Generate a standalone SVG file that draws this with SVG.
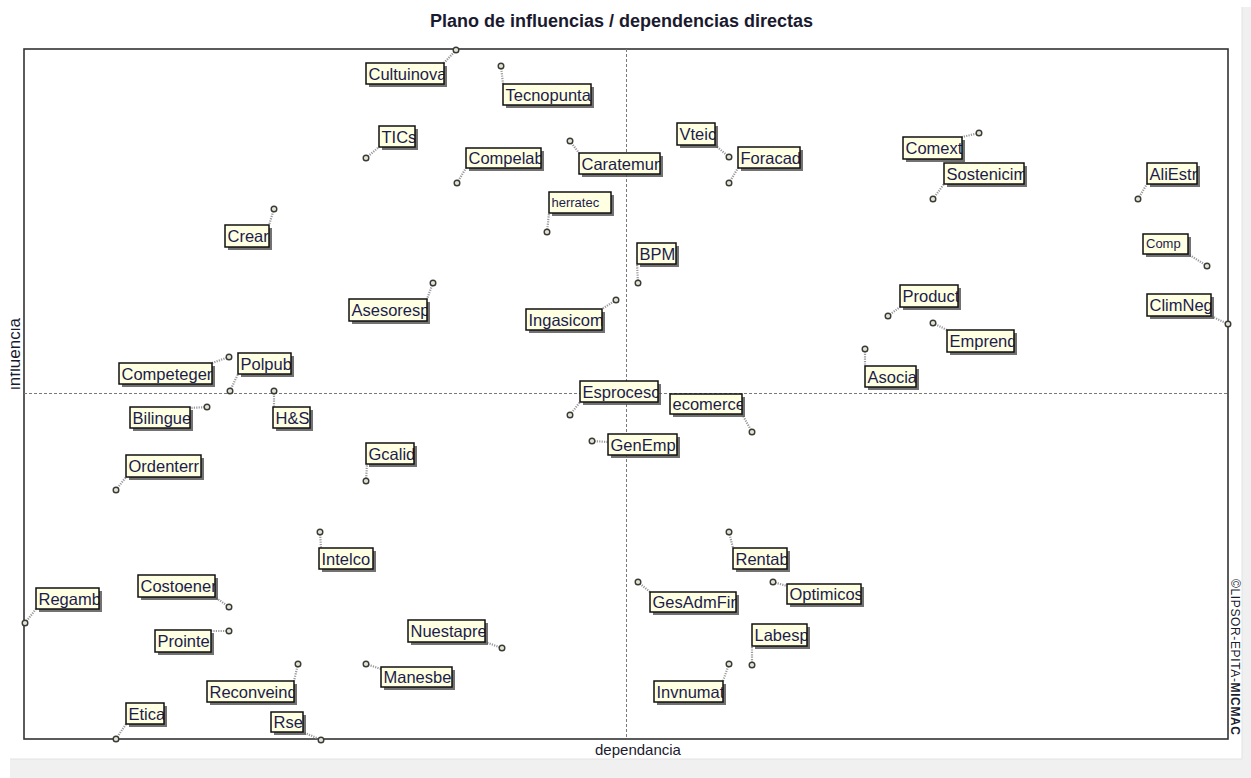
<svg xmlns="http://www.w3.org/2000/svg" width="1251" height="778" viewBox="0 0 1251 778">
  <defs>
    <style>
      .lbl { font-family: "Liberation Sans", Arial, sans-serif; font-size: 16.5px; fill: #1c1c4e; }
      .sm { font-size: 13px; }
      .sh { fill: #505050; opacity: 0.8; filter: url(#soft); }
      .bx { fill: #ffffe1; }
      .bd { fill: none; stroke: #111; stroke-width: 1.5; }
      .pt { fill: #e4e4cf; stroke: #3a3a3a; stroke-width: 1.4; }
      .ld { fill: none; stroke: #9a9a9a; stroke-width: 2.2; stroke-dasharray: 1.2 1.2; }
      .axis { fill: none; stroke: #7a7a7a; stroke-width: 1; stroke-dasharray: 3 2; }
      .cap { font-family: "Liberation Sans", Arial, sans-serif; fill: #1a1a2e; }
    </style>
    <filter id="soft" x="-10%" y="-30%" width="120%" height="160%">
      <feGaussianBlur stdDeviation="0.7"/>
    </filter>
    <clipPath id="yclip">
      <rect x="10.5" y="290" width="20" height="130"/>
    </clipPath>
  </defs>

  <!-- window background -->
  <rect x="0" y="0" width="1251" height="778" fill="#ffffff"/>
  <rect x="1242" y="7" width="9" height="771" fill="#f0f0f0"/>
  <line x1="1242" y1="7" x2="1242" y2="759" stroke="#e2e2e2" stroke-width="1"/>
  <rect x="10" y="759" width="1241" height="19" fill="#f0f0f0"/>
  <line x1="10" y1="759" x2="1242" y2="759" stroke="#e2e2e2" stroke-width="1"/>

  <!-- title -->
  <text class="cap" x="621.5" y="26.5" text-anchor="middle" font-size="18" font-weight="bold">Plano de influencias / dependencias directas</text>

  <!-- plot frame and median axes -->
  <rect x="24" y="49" width="1204" height="690" fill="#ffffff" stroke="#333" stroke-width="1.6"/>
  <line class="axis" x1="626.5" y1="49" x2="626.5" y2="739"/>
  <line class="axis" x1="24" y1="393.5" x2="1228" y2="393.5"/>

  <!-- axis captions -->
  <g clip-path="url(#yclip)">
    <text class="cap" transform="translate(19.5,354) rotate(-90)" text-anchor="middle" font-size="17">influencia</text>
  </g>
  <text class="cap" x="638" y="755" text-anchor="middle" font-size="15">dependancia</text>
  <text class="cap" transform="translate(1231,579) rotate(90)" font-size="12" textLength="156">©LIPSOR-EPITA-<tspan font-weight="bold">MICMAC</tspan></text>

  <!-- leaders from each point to its label -->
  <g id="connectors">
    <path class="ld" d="M456,50 L444,63"/>
    <path class="ld" d="M501,66 L503,84"/>
    <path class="ld" d="M366,158 L379,147"/>
    <path class="ld" d="M457,183 L466,168"/>
    <path class="ld" d="M570,141 L579,153"/>
    <path class="ld" d="M729,157 L715,145"/>
    <path class="ld" d="M729,183 L738,168"/>
    <path class="ld" d="M979,133 L962,137"/>
    <path class="ld" d="M933,199 L944,184"/>
    <path class="ld" d="M1138,199 L1147,184"/>
    <path class="ld" d="M274,209 L269,225"/>
    <path class="ld" d="M547,232 L549,213"/>
    <path class="ld" d="M638,283 L637,264"/>
    <path class="ld" d="M1207,266 L1188,254"/>
    <path class="ld" d="M433,283 L427,299"/>
    <path class="ld" d="M616,300 L602,309"/>
    <path class="ld" d="M888,316 L900,307"/>
    <path class="ld" d="M1228,324 L1211,316"/>
    <path class="ld" d="M933,323 L947,330"/>
    <path class="ld" d="M865,349 L865,366"/>
    <path class="ld" d="M229,357 L212,363"/>
    <path class="ld" d="M230,391 L238,374"/>
    <path class="ld" d="M570,415 L580,402"/>
    <path class="ld" d="M752,432 L742,414"/>
    <path class="ld" d="M207,407 L190,408"/>
    <path class="ld" d="M274,391 L274,407"/>
    <path class="ld" d="M592,441 L608,442"/>
    <path class="ld" d="M366,481 L367,464"/>
    <path class="ld" d="M116,490 L126,477"/>
    <path class="ld" d="M320,532 L321,548"/>
    <path class="ld" d="M729,532 L733,548"/>
    <path class="ld" d="M229,607 L215,597"/>
    <path class="ld" d="M25,623 L36,609"/>
    <path class="ld" d="M638,582 L650,592"/>
    <path class="ld" d="M773,582 L787,586"/>
    <path class="ld" d="M502,648 L485,642"/>
    <path class="ld" d="M229,631 L211,631"/>
    <path class="ld" d="M752,665 L752,646"/>
    <path class="ld" d="M298,664 L294,681"/>
    <path class="ld" d="M729,664 L723,681"/>
    <path class="ld" d="M366,664 L381,669"/>
    <path class="ld" d="M116,739 L126,724"/>
    <path class="ld" d="M321,740 L303,732"/>
  </g>

  <!-- variables: point, shadow, box, clipped label, border -->
  <g id="n-cultuinova"><circle class="pt" cx="456" cy="50" r="2.8"/><rect class="sh" x="369" y="66" width="78" height="21"/><rect class="bx" x="366" y="63" width="78" height="21"/><svg x="366" y="63" width="78" height="21"><text class="lbl" x="2.5" y="16.5">Cultuinova</text></svg><rect class="bd" x="366" y="63" width="78" height="21"/></g>
  <g id="n-tecnopunta"><circle class="pt" cx="501" cy="66" r="2.8"/><rect class="sh" x="506" y="87" width="88" height="21"/><rect class="bx" x="503" y="84" width="88" height="21"/><svg x="503" y="84" width="88" height="21"><text class="lbl" x="2.5" y="16.5">Tecnopunta</text></svg><rect class="bd" x="503" y="84" width="88" height="21"/></g>
  <g id="n-tics"><circle class="pt" cx="366" cy="158" r="2.8"/><rect class="sh" x="382" y="129" width="36" height="21"/><rect class="bx" x="379" y="126" width="36" height="21"/><svg x="379" y="126" width="36" height="21"><text class="lbl" x="2.5" y="16.5">TICs</text></svg><rect class="bd" x="379" y="126" width="36" height="21"/></g>
  <g id="n-compelab"><circle class="pt" cx="457" cy="183" r="2.8"/><rect class="sh" x="469" y="151" width="75" height="20"/><rect class="bx" x="466" y="148" width="75" height="20"/><svg x="466" y="148" width="75" height="20"><text class="lbl" x="2.5" y="16">Compelab</text></svg><rect class="bd" x="466" y="148" width="75" height="20"/></g>
  <g id="n-caratemun"><circle class="pt" cx="570" cy="141" r="2.8"/><rect class="sh" x="582" y="156" width="81" height="21"/><rect class="bx" x="579" y="153" width="81" height="21"/><svg x="579" y="153" width="81" height="21"><text class="lbl" x="2.5" y="16.5">Caratemun</text></svg><rect class="bd" x="579" y="153" width="81" height="21"/></g>
  <g id="n-vteic"><circle class="pt" cx="729" cy="157" r="2.8"/><rect class="sh" x="680" y="126" width="38" height="22"/><rect class="bx" x="677" y="123" width="38" height="22"/><svg x="677" y="123" width="38" height="22"><text class="lbl" x="2.5" y="17">Vteic</text></svg><rect class="bd" x="677" y="123" width="38" height="22"/></g>
  <g id="n-foracad"><circle class="pt" cx="729" cy="183" r="2.8"/><rect class="sh" x="741" y="150" width="62" height="21"/><rect class="bx" x="738" y="147" width="62" height="21"/><svg x="738" y="147" width="62" height="21"><text class="lbl" x="2.5" y="16.5">Foracad</text></svg><rect class="bd" x="738" y="147" width="62" height="21"/></g>
  <g id="n-comext"><circle class="pt" cx="979" cy="133" r="2.8"/><rect class="sh" x="906" y="140" width="59" height="22"/><rect class="bx" x="903" y="137" width="59" height="22"/><svg x="903" y="137" width="59" height="22"><text class="lbl" x="2.5" y="17">Comext</text></svg><rect class="bd" x="903" y="137" width="59" height="22"/></g>
  <g id="n-sostenicim"><circle class="pt" cx="933" cy="199" r="2.8"/><rect class="sh" x="947" y="166" width="80" height="21"/><rect class="bx" x="944" y="163" width="80" height="21"/><svg x="944" y="163" width="80" height="21"><text class="lbl" x="2.5" y="16.5">Sostenicim</text></svg><rect class="bd" x="944" y="163" width="80" height="21"/></g>
  <g id="n-aliestr"><circle class="pt" cx="1138" cy="199" r="2.8"/><rect class="sh" x="1150" y="166" width="50" height="21"/><rect class="bx" x="1147" y="163" width="50" height="21"/><svg x="1147" y="163" width="50" height="21"><text class="lbl" x="2.5" y="16.5">AliEstr</text></svg><rect class="bd" x="1147" y="163" width="50" height="21"/></g>
  <g id="n-crear"><circle class="pt" cx="274" cy="209" r="2.8"/><rect class="sh" x="228" y="228" width="44" height="22"/><rect class="bx" x="225" y="225" width="44" height="22"/><svg x="225" y="225" width="44" height="22"><text class="lbl" x="2.5" y="17">Crear</text></svg><rect class="bd" x="225" y="225" width="44" height="22"/></g>
  <g id="n-herratec"><circle class="pt" cx="547" cy="232" r="2.8"/><rect class="sh" x="552" y="195" width="62" height="21"/><rect class="bx" x="549" y="192" width="62" height="21"/><svg x="549" y="192" width="62" height="21"><text class="lbl sm" x="2.5" y="14.5">herratec</text></svg><rect class="bd" x="549" y="192" width="62" height="21"/></g>
  <g id="n-bpm"><circle class="pt" cx="638" cy="283" r="2.8"/><rect class="sh" x="640" y="246" width="39" height="21"/><rect class="bx" x="637" y="243" width="39" height="21"/><svg x="637" y="243" width="39" height="21"><text class="lbl" x="2.5" y="16.5">BPM</text></svg><rect class="bd" x="637" y="243" width="39" height="21"/></g>
  <g id="n-comp"><circle class="pt" cx="1207" cy="266" r="2.8"/><rect class="sh" x="1146" y="237" width="45" height="20"/><rect class="bx" x="1143" y="234" width="45" height="20"/><svg x="1143" y="234" width="45" height="20"><text class="lbl sm" x="3" y="14">Comp</text></svg><rect class="bd" x="1143" y="234" width="45" height="20"/></g>
  <g id="n-asesoresp"><circle class="pt" cx="433" cy="283" r="2.8"/><rect class="sh" x="352" y="302" width="78" height="22"/><rect class="bx" x="349" y="299" width="78" height="22"/><svg x="349" y="299" width="78" height="22"><text class="lbl" x="2.5" y="17">Asesoresp</text></svg><rect class="bd" x="349" y="299" width="78" height="22"/></g>
  <g id="n-ingasicom"><circle class="pt" cx="616" cy="300" r="2.8"/><rect class="sh" x="529" y="312" width="76" height="21"/><rect class="bx" x="526" y="309" width="76" height="21"/><svg x="526" y="309" width="76" height="21"><text class="lbl" x="2.5" y="16.5">Ingasicom</text></svg><rect class="bd" x="526" y="309" width="76" height="21"/></g>
  <g id="n-product"><circle class="pt" cx="888" cy="316" r="2.8"/><rect class="sh" x="903" y="288" width="58" height="22"/><rect class="bx" x="900" y="285" width="58" height="22"/><svg x="900" y="285" width="58" height="22"><text class="lbl" x="2.5" y="17">Product</text></svg><rect class="bd" x="900" y="285" width="58" height="22"/></g>
  <g id="n-climneg"><circle class="pt" cx="1228" cy="324" r="2.8"/><rect class="sh" x="1150" y="297" width="64" height="22"/><rect class="bx" x="1147" y="294" width="64" height="22"/><svg x="1147" y="294" width="64" height="22"><text class="lbl" x="2.5" y="17">ClimNeg</text></svg><rect class="bd" x="1147" y="294" width="64" height="22"/></g>
  <g id="n-emprend"><circle class="pt" cx="933" cy="323" r="2.8"/><rect class="sh" x="950" y="333" width="67" height="22"/><rect class="bx" x="947" y="330" width="67" height="22"/><svg x="947" y="330" width="67" height="22"><text class="lbl" x="2.5" y="17">Emprend</text></svg><rect class="bd" x="947" y="330" width="67" height="22"/></g>
  <g id="n-asocia"><circle class="pt" cx="865" cy="349" r="2.8"/><rect class="sh" x="868" y="369" width="51" height="21"/><rect class="bx" x="865" y="366" width="51" height="21"/><svg x="865" y="366" width="51" height="21"><text class="lbl" x="2.5" y="16.5">Asocia</text></svg><rect class="bd" x="865" y="366" width="51" height="21"/></g>
  <g id="n-competegen"><circle class="pt" cx="229" cy="357" r="2.8"/><rect class="sh" x="122" y="366" width="93" height="21"/><rect class="bx" x="119" y="363" width="93" height="21"/><svg x="119" y="363" width="93" height="21"><text class="lbl" x="2.5" y="16.5">Competegen</text></svg><rect class="bd" x="119" y="363" width="93" height="21"/></g>
  <g id="n-polpub"><circle class="pt" cx="230" cy="391" r="2.8"/><rect class="sh" x="241" y="356" width="53" height="21"/><rect class="bx" x="238" y="353" width="53" height="21"/><svg x="238" y="353" width="53" height="21"><text class="lbl" x="2.5" y="16.5">Polpub</text></svg><rect class="bd" x="238" y="353" width="53" height="21"/></g>
  <g id="n-esproceso"><circle class="pt" cx="570" cy="415" r="2.8"/><rect class="sh" x="583" y="384" width="78" height="21"/><rect class="bx" x="580" y="381" width="78" height="21"/><svg x="580" y="381" width="78" height="21"><text class="lbl" x="2.5" y="16.5">Esproceso</text></svg><rect class="bd" x="580" y="381" width="78" height="21"/></g>
  <g id="n-ecomerce"><circle class="pt" cx="752" cy="432" r="2.8"/><rect class="sh" x="673" y="397" width="72" height="20"/><rect class="bx" x="670" y="394" width="72" height="20"/><svg x="670" y="394" width="72" height="20"><text class="lbl" x="2.5" y="16">ecomerce</text></svg><rect class="bd" x="670" y="394" width="72" height="20"/></g>
  <g id="n-bilingue"><circle class="pt" cx="207" cy="407" r="2.8"/><rect class="sh" x="133" y="410" width="60" height="21"/><rect class="bx" x="130" y="407" width="60" height="21"/><svg x="130" y="407" width="60" height="21"><text class="lbl" x="2.5" y="16.5">Bilingue</text></svg><rect class="bd" x="130" y="407" width="60" height="21"/></g>
  <g id="n-hs"><circle class="pt" cx="274" cy="391" r="2.8"/><rect class="sh" x="276" y="410" width="37" height="21"/><rect class="bx" x="273" y="407" width="37" height="21"/><svg x="273" y="407" width="37" height="21"><text class="lbl" x="2.5" y="16.5">H&amp;S</text></svg><rect class="bd" x="273" y="407" width="37" height="21"/></g>
  <g id="n-genempl"><circle class="pt" cx="592" cy="441" r="2.8"/><rect class="sh" x="611" y="437" width="69" height="21"/><rect class="bx" x="608" y="434" width="69" height="21"/><svg x="608" y="434" width="69" height="21"><text class="lbl" x="2.5" y="16.5">GenEmpl</text></svg><rect class="bd" x="608" y="434" width="69" height="21"/></g>
  <g id="n-gcalid"><circle class="pt" cx="366" cy="481" r="2.8"/><rect class="sh" x="369" y="446" width="48" height="21"/><rect class="bx" x="366" y="443" width="48" height="21"/><svg x="366" y="443" width="48" height="21"><text class="lbl" x="2.5" y="16.5">Gcalid</text></svg><rect class="bd" x="366" y="443" width="48" height="21"/></g>
  <g id="n-ordenterr"><circle class="pt" cx="116" cy="490" r="2.8"/><rect class="sh" x="129" y="458" width="75" height="22"/><rect class="bx" x="126" y="455" width="75" height="22"/><svg x="126" y="455" width="75" height="22"><text class="lbl" x="2.5" y="17">Ordenterr</text></svg><rect class="bd" x="126" y="455" width="75" height="22"/></g>
  <g id="n-intelco"><circle class="pt" cx="320" cy="532" r="2.8"/><rect class="sh" x="322" y="551" width="54" height="21"/><rect class="bx" x="319" y="548" width="54" height="21"/><svg x="319" y="548" width="54" height="21"><text class="lbl" x="2.5" y="16.5">Intelco</text></svg><rect class="bd" x="319" y="548" width="54" height="21"/></g>
  <g id="n-rentab"><circle class="pt" cx="729" cy="532" r="2.8"/><rect class="sh" x="736" y="551" width="54" height="21"/><rect class="bx" x="733" y="548" width="54" height="21"/><svg x="733" y="548" width="54" height="21"><text class="lbl" x="2.5" y="16.5">Rentab</text></svg><rect class="bd" x="733" y="548" width="54" height="21"/></g>
  <g id="n-costoener"><circle class="pt" cx="229" cy="607" r="2.8"/><rect class="sh" x="141" y="578" width="77" height="22"/><rect class="bx" x="138" y="575" width="77" height="22"/><svg x="138" y="575" width="77" height="22"><text class="lbl" x="2.5" y="17">Costoener</text></svg><rect class="bd" x="138" y="575" width="77" height="22"/></g>
  <g id="n-regamb"><circle class="pt" cx="25" cy="623" r="2.8"/><rect class="sh" x="39" y="591" width="63" height="21"/><rect class="bx" x="36" y="588" width="63" height="21"/><svg x="36" y="588" width="63" height="21"><text class="lbl" x="2.5" y="16.5">Regamb</text></svg><rect class="bd" x="36" y="588" width="63" height="21"/></g>
  <g id="n-gesadmfin"><circle class="pt" cx="638" cy="582" r="2.8"/><rect class="sh" x="653" y="595" width="86" height="20"/><rect class="bx" x="650" y="592" width="86" height="20"/><svg x="650" y="592" width="86" height="20"><text class="lbl" x="2.5" y="16">GesAdmFin</text></svg><rect class="bd" x="650" y="592" width="86" height="20"/></g>
  <g id="n-optimicos"><circle class="pt" cx="773" cy="582" r="2.8"/><rect class="sh" x="790" y="587" width="74" height="20"/><rect class="bx" x="787" y="584" width="74" height="20"/><svg x="787" y="584" width="74" height="20"><text class="lbl" x="2.5" y="16">Optimicos</text></svg><rect class="bd" x="787" y="584" width="74" height="20"/></g>
  <g id="n-nuestapre"><circle class="pt" cx="502" cy="648" r="2.8"/><rect class="sh" x="411" y="623" width="77" height="22"/><rect class="bx" x="408" y="620" width="77" height="22"/><svg x="408" y="620" width="77" height="22"><text class="lbl" x="2.5" y="17">Nuestapre</text></svg><rect class="bd" x="408" y="620" width="77" height="22"/></g>
  <g id="n-prointe"><circle class="pt" cx="229" cy="631" r="2.8"/><rect class="sh" x="158" y="633" width="56" height="22"/><rect class="bx" x="155" y="630" width="56" height="22"/><svg x="155" y="630" width="56" height="22"><text class="lbl" x="2.5" y="17">Prointe</text></svg><rect class="bd" x="155" y="630" width="56" height="22"/></g>
  <g id="n-labesp"><circle class="pt" cx="752" cy="665" r="2.8"/><rect class="sh" x="755" y="627" width="55" height="22"/><rect class="bx" x="752" y="624" width="55" height="22"/><svg x="752" y="624" width="55" height="22"><text class="lbl" x="2.5" y="17">Labesp</text></svg><rect class="bd" x="752" y="624" width="55" height="22"/></g>
  <g id="n-reconveind"><circle class="pt" cx="298" cy="664" r="2.8"/><rect class="sh" x="210" y="684" width="87" height="21"/><rect class="bx" x="207" y="681" width="87" height="21"/><svg x="207" y="681" width="87" height="21"><text class="lbl" x="2.5" y="16.5">Reconveind</text></svg><rect class="bd" x="207" y="681" width="87" height="21"/></g>
  <g id="n-invnumat"><circle class="pt" cx="729" cy="664" r="2.8"/><rect class="sh" x="657" y="684" width="69" height="21"/><rect class="bx" x="654" y="681" width="69" height="21"/><svg x="654" y="681" width="69" height="21"><text class="lbl" x="2.5" y="16.5">Invnumat</text></svg><rect class="bd" x="654" y="681" width="69" height="21"/></g>
  <g id="n-manesbel"><circle class="pt" cx="366" cy="664" r="2.8"/><rect class="sh" x="384" y="670" width="71" height="20"/><rect class="bx" x="381" y="667" width="71" height="20"/><svg x="381" y="667" width="71" height="20"><text class="lbl" x="2.5" y="16">Manesbel</text></svg><rect class="bd" x="381" y="667" width="71" height="20"/></g>
  <g id="n-etica"><circle class="pt" cx="116" cy="739" r="2.8"/><rect class="sh" x="129" y="706" width="38" height="21"/><rect class="bx" x="126" y="703" width="38" height="21"/><svg x="126" y="703" width="38" height="21"><text class="lbl" x="2.5" y="16.5">Etica</text></svg><rect class="bd" x="126" y="703" width="38" height="21"/></g>
  <g id="n-rse"><circle class="pt" cx="321" cy="740" r="2.8"/><rect class="sh" x="274" y="715" width="32" height="20"/><rect class="bx" x="271" y="712" width="32" height="20"/><svg x="271" y="712" width="32" height="20"><text class="lbl" x="2.5" y="16">Rse</text></svg><rect class="bd" x="271" y="712" width="32" height="20"/></g>
</svg>
